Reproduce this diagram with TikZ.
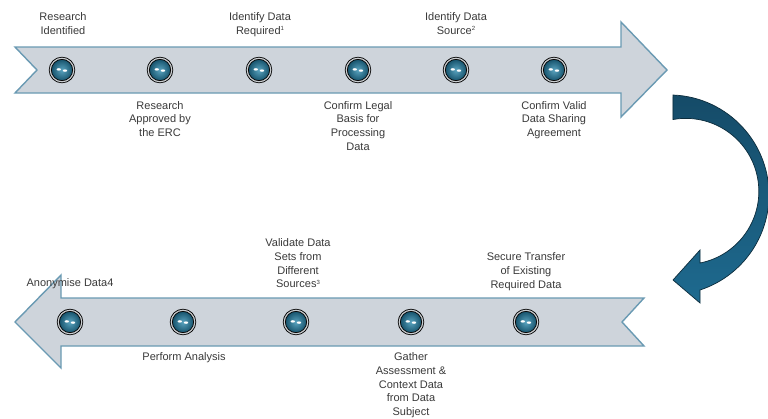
\documentclass[tikz,border=0pt]{standalone}
\usepackage{fontspec}
\setmainfont{Liberation Sans}
\definecolor{bandfill}{HTML}{CED4DB}
\definecolor{bandline}{HTML}{6A9AB3}
\definecolor{txt}{HTML}{3A3A3A}
\definecolor{ringc}{HTML}{C9CDD0}
\definecolor{ballin}{HTML}{5AA4C0}
\definecolor{ballout}{HTML}{0F4A63}
\definecolor{curvtop}{HTML}{154B68}
\definecolor{curvbot}{HTML}{1E6A8F}
\definecolor{curvline}{HTML}{0C2C3C}
\newcommand{\supnum}[1]{\raisebox{3.6pt}{\fontsize{6}{6}\selectfont #1}}
\begin{document}
\begin{tikzpicture}[x=1pt,y=-1pt,
  lbl/.style={font=\fontsize{11}{13.7}\selectfont, text=txt, align=center, inner sep=0pt},
  band/.style={fill=bandfill, draw=bandline, line width=1.4pt, line join=miter},
  ball/.style={circle, minimum size=23.5pt, inner sep=0pt, draw=black, line width=0.85pt,
    double=ringc, double distance=1.2pt, inner color=ballin, outer color=ballout,
    path picture={
      \fill[white] ([xshift=-3.2pt,yshift=0.6pt]path picture bounding box.center) ellipse[x radius=2.2pt, y radius=1.2pt];
      \fill[white] ([xshift=3pt,yshift=-0.6pt]path picture bounding box.center) ellipse[x radius=2.2pt, y radius=1.2pt];
    }},
  curv/.style={top color=curvtop, bottom color=curvbot, draw=curvline, line width=0.7pt, line join=miter}
]
\useasboundingbox (0,0) rectangle (768,418);
\fill[white] (0,0) rectangle (768,418);
\begin{scope}
\clip (0,0) rectangle (768,418);
% top arrow band
\draw[band] (15,47) -- (621,47) -- (621,22) -- (667,70) -- (621,117) -- (621,93) -- (15,93) -- (37,70) -- cycle;
% bottom arrow band
\draw[band] (644,298) -- (61,298) -- (61,275) -- (15,322) -- (61,368) -- (61,346) -- (644,346) -- (622,322) -- cycle;
% curved arrow
\draw[curv] (673,95) arc[start angle=-87.7, end angle=71.9, radius=100]
  -- (700,303) -- (673,280) -- (700,250) -- (700,263)
  arc[start angle=78.8, end angle=-100.2, radius=73] -- cycle;
\end{scope}
% top circles
\node[ball] (t1) at (62,70) {};
\node[ball] (t2) at (160,70) {};
\node[ball] (t3) at (259,70) {};
\node[ball] (t4) at (358,70) {};
\node[ball] (t5) at (456,70) {};
\node[ball] (t6) at (554,70) {};
% bottom circles
\node[ball] (b1) at (70,322) {};
\node[ball] (b2) at (183,322) {};
\node[ball] (b3) at (296,322) {};
\node[ball] (b4) at (411,322) {};
\node[ball] (b5) at (526,322) {};
% top labels
\node[lbl, anchor=north] (l1) at (63,12.5) {Research\\Identified};
\node[lbl, anchor=north] (l2) at (160,101) {Research\\Approved by\\the ERC};
\node[lbl, anchor=north] (l3) at (260,12.5) {Identify Data\\Required\supnum{1}};
\node[lbl, anchor=north] (l4) at (358,101) {Confirm Legal\\Basis for\\Processing\\Data};
\node[lbl, anchor=north] (l5) at (456,12.5) {Identify Data\\Source\supnum{2}};
\node[lbl, anchor=north] (l6) at (554,101) {Confirm Valid\\Data Sharing\\Agreement};
% bottom labels
\node[lbl, anchor=north] (m1) at (70,278.5) {Anonymise Data4};
\node[lbl, anchor=north] (m2) at (184,352.5) {Perform Analysis};
\node[lbl, anchor=north] (m3) at (298,238.5) {Validate Data\\Sets from\\Different\\Sources\supnum{3}};
\node[lbl, anchor=north] (m4) at (411,352.5) {Gather\\Assessment \&\\Context Data\\from Data\\Subject};
\node[lbl, anchor=north] (m5) at (526,252.5) {Secure Transfer\\of Existing\\Required Data};
\end{tikzpicture}
\end{document}
